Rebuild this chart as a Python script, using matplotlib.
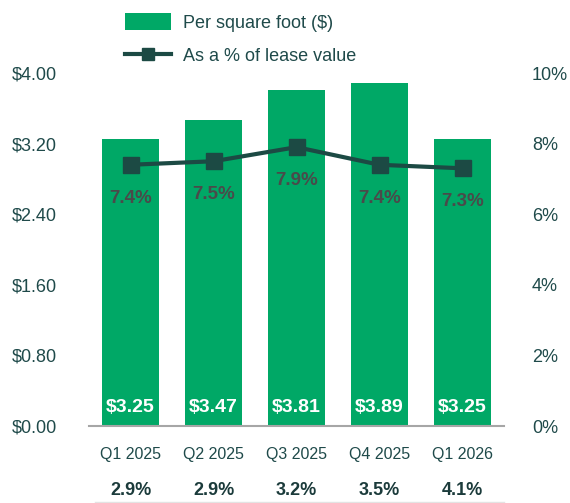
import matplotlib
matplotlib.use('Agg')
import matplotlib.pyplot as plt
import matplotlib.transforms as mtransforms
from matplotlib.lines import Line2D

plt.rcParams['font.family'] = ['Liberation Sans', 'DejaVu Sans']

# data
quarters = ['Q1 2025', 'Q2 2025', 'Q3 2025', 'Q4 2025', 'Q1 2026']
per_sqft = [3.25, 3.47, 3.81, 3.89, 3.25]
pct_of_lease = [7.4, 7.5, 7.9, 7.4, 7.3]
bottom_row = [2.9, 2.9, 3.2, 3.5, 4.1]

green = '#00A866'
dark = '#1C4A44'
text_col = '#1F4A4A'
grey_lbl = '#4A4A4A'

fig = plt.figure(figsize=(5.7, 5.03), dpi=100)
ax = fig.add_axes([89 / 570, 1 - 426 / 503, 415 / 570, 353 / 503])
ax2 = ax.twinx()

x = list(range(len(quarters)))
bars = ax.bar(x, per_sqft, width=0.68, color=green, label='Per square foot ($)', zorder=2)
ax.set_xlim(-0.5, 4.5)
ax.set_ylim(0, 4.0)
ax.set_yticks([0, 0.8, 1.6, 2.4, 3.2, 4.0])
ax.set_yticklabels([f'${v:.2f}' for v in [0, 0.8, 1.6, 2.4, 3.2, 4.0]])
ax.set_xticks(x)
ax.set_xticklabels(quarters)
ax.tick_params(axis='y', length=0, pad=23, labelsize=13, labelcolor=text_col)
ax.tick_params(axis='x', length=0, pad=15, labelsize=11.5, labelcolor=text_col)
for s in ['top', 'right', 'left']:
    ax.spines[s].set_visible(False)
ax.spines['bottom'].set_color('#A6A6A6')
ax.spines['bottom'].set_linewidth(1.5)

# value labels inside bars
for xi, v in zip(x, per_sqft):
    ax.annotate(f'${v:.2f}', (xi, 0), xytext=(0, 13), textcoords='offset points',
                ha='center', va='center', color='white', fontsize=14, fontweight='bold', zorder=4)

line, = ax2.plot(x, pct_of_lease, color=dark, lw=3, marker='s', markersize=11.5,
                 label='As a % of lease value', zorder=3)
ax2.set_ylim(0, 10)
ax2.set_yticks([0, 2, 4, 6, 8, 10])
ax2.set_yticklabels([f'{v}%' for v in [0, 2, 4, 6, 8, 10]])
ax2.tick_params(axis='y', length=0, pad=20, labelsize=13, labelcolor=text_col)
for s in ax2.spines.values():
    s.set_visible(False)

for xi, v in zip(x, pct_of_lease):
    ax2.annotate(f'{v:.1f}%', (xi, v), xytext=(0, -24), textcoords='offset points',
                 ha='center', va='center', color=grey_lbl, fontsize=13.5, fontweight='bold')

# extra row under the axis
trans = mtransforms.blended_transform_factory(ax.transData, ax.transAxes)
for xi, v in zip(x, bottom_row):
    ax.text(xi, -0.182, f'{v:.1f}%', transform=trans, ha='center', va='center',
            fontsize=13, fontweight='bold', color='#1B3B3B')

fig.add_artist(Line2D([95 / 570, 504 / 570], [1.5 / 503, 1.5 / 503], color='#E3E3E3', lw=1))

leg = fig.legend(handles=[bars, line], loc='upper left', bbox_to_anchor=(125 / 570, 1 - 13 / 503),
                 frameon=False, fontsize=13, handlelength=2.55, handleheight=1.05,
                 handletextpad=0.65, labelspacing=0.85, borderpad=0, borderaxespad=0)
for t in leg.get_texts():
    t.set_color(text_col)
leg.legend_handles[1].set_markersize(8)

fig.savefig('out.png', dpi=100)
